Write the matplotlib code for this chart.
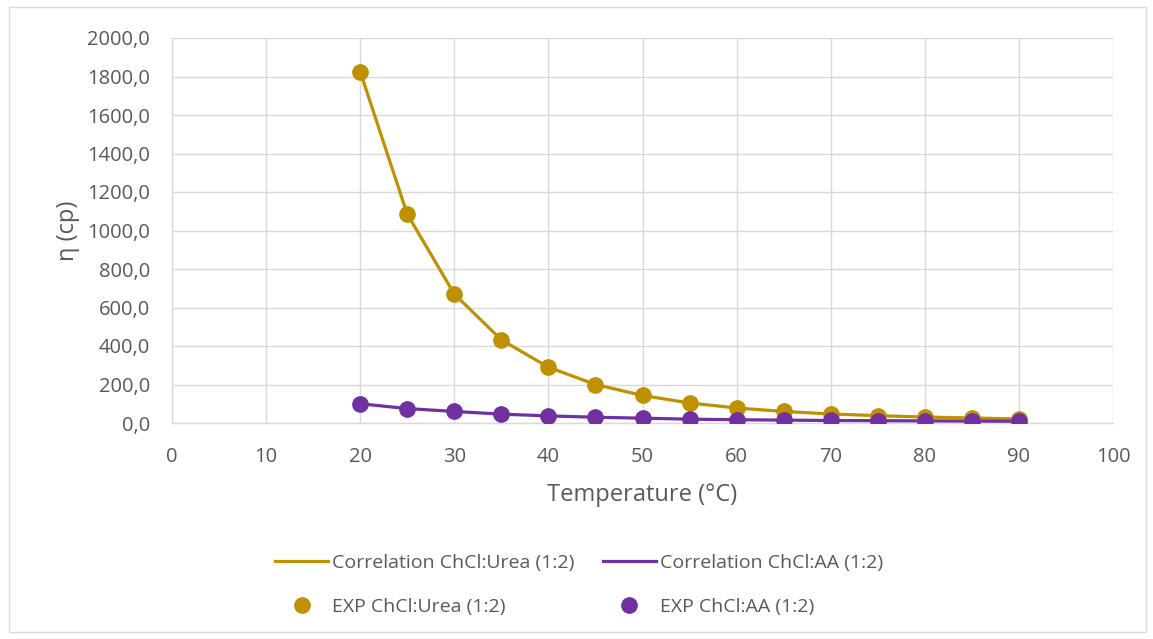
import matplotlib.pyplot as plt
from matplotlib.patches import Rectangle
from matplotlib.ticker import FuncFormatter

# Temperature (°C) and viscosity (cp)
temperature = [20, 25, 30, 35, 40, 45, 50, 55, 60, 65, 70, 75, 80, 85, 90]
exp_urea = [1825, 1085, 670, 432, 290, 200, 143, 104, 78, 60, 47, 38, 31, 26, 21]
exp_aa = [100, 75, 60, 46, 37, 30, 25, 20, 17, 15, 13, 12, 11, 10, 9]
corr_urea = exp_urea
corr_aa = exp_aa

gold = '#BF9000'
purple = '#7030A0'
text_col = '#595959'
grid_col = '#D9D9D9'

plt.rcParams['font.family'] = ['Open Sans', 'DejaVu Sans']

fig = plt.figure(figsize=(11.53, 6.39), dpi=100)
fig.patches.append(Rectangle((9 / 1153, 1 - 632 / 639), 1137 / 1153, 625 / 639,
                             transform=fig.transFigure, fill=False,
                             edgecolor='#D9D9D9', linewidth=1))
ax = fig.add_axes([172 / 1153, 1 - 423 / 639, 941 / 1153, 385 / 639])

l1, = ax.plot(temperature, corr_urea, color=gold, lw=2.3, label='Correlation ChCl:Urea (1:2)', zorder=3)
l2, = ax.plot(temperature, corr_aa, color=purple, lw=2.3, label='Correlation ChCl:AA (1:2)', zorder=3)
s1, = ax.plot(temperature, exp_urea, 'o', color=gold, ms=11, label='EXP ChCl:Urea (1:2)', zorder=4)
s2, = ax.plot(temperature, exp_aa, 'o', color=purple, ms=11, label='EXP ChCl:AA (1:2)', zorder=4)

ax.set_xlim(0, 100)
ax.set_ylim(0, 2000)
ax.set_xticks(range(0, 101, 10))
ax.set_yticks(range(0, 2001, 200))
ax.yaxis.set_major_formatter(FuncFormatter(lambda v, p: f'{v:.1f}'.replace('.', ',')))
ax.grid(True, color=grid_col, linewidth=1)
ax.set_axisbelow(True)
ax.tick_params(length=0, labelsize=14.5, colors=text_col)
ax.tick_params(axis='y', pad=16)
ax.tick_params(axis='x', pad=17)
for side in ['top', 'right']:
    ax.spines[side].set_visible(False)
for side in ['left', 'bottom']:
    ax.spines[side].set_color(grid_col)
    ax.spines[side].set_linewidth(1)

ax.set_xlabel('Temperature (°C)', fontsize=17, color=text_col, labelpad=12)
ax.set_ylabel('η (cp)', fontsize=17, color=text_col, labelpad=5)

fig.legend([l1, s1, l2, s2],
           [h.get_label() for h in [l1, s1, l2, s2]],
           loc='center', bbox_to_anchor=(579 / 1153, 1 - 585 / 639), ncol=2,
           frameon=False, fontsize=14, labelcolor=text_col,
           handlelength=2.7, handletextpad=0.2, columnspacing=1.5,
           labelspacing=1.35, markerscale=1)

fig.savefig('out.png', dpi=100)
